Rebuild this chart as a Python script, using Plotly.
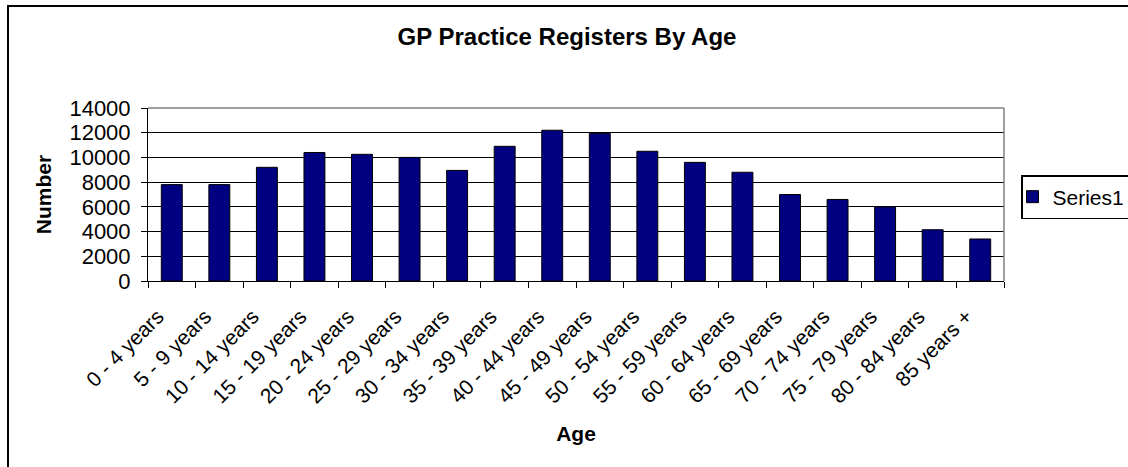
import plotly.graph_objects as go

categories = ["0 - 4 years", "5 - 9 years", "10 - 14 years", "15 - 19 years",
              "20 - 24 years", "25 - 29 years", "30 - 34 years", "35 - 39 years",
              "40 - 44 years", "45 - 49 years", "50 - 54 years", "55 - 59 years",
              "60 - 64 years", "65 - 69 years", "70 - 74 years", "75 - 79 years",
              "80 - 84 years", "85 years +"]
series1 = [7800, 7800, 9200, 10400, 10250, 10000, 8950, 10900, 12200,
           11950, 10500, 9600, 8800, 7000, 6600, 6000, 4150, 3400]
y_ticks = [0, 2000, 4000, 6000, 8000, 10000, 12000, 14000]

W, H = 1128, 467
ML, MR, MT, MB = 148, 124, 108, 186
PW, PH = W - ML - MR, H - MT - MB
FONT = "Arial, 'Liberation Sans', sans-serif"

def px_x(p):
    return (p - ML) / PW

def px_y(p):
    return (H - MB - p) / PH

fig = go.Figure()
fig.add_trace(go.Bar(
    x=categories, y=series1, name="Series1",
    marker=dict(color="#000080", line=dict(color="#000000", width=1)),
))

fig.update_layout(
    width=W, height=H, autosize=False,
    margin=dict(l=ML, r=MR, t=MT, b=MB, autoexpand=False),
    paper_bgcolor="white", plot_bgcolor="white",
    font=dict(family=FONT, size=21, color="black"),
    bargap=0.56,
    title=dict(text="<b>GP Practice Registers By Age</b>", font=dict(size=24),
               x=px_x(567), xanchor="center", xref="paper",
               y=1 - 37 / H, yanchor="middle"),
    showlegend=True,
    legend=dict(x=px_x(1021), xanchor="left", y=px_y(175), yanchor="top",
                bordercolor="black", borderwidth=1.5, bgcolor="white",
                font=dict(size=21), tracegroupgap=0, indentation=-10),
    xaxis=dict(
        title=dict(text="<b>Age</b>", font=dict(size=21), standoff=19),
        tickangle=-45, ticks="outside", ticklen=6, tickcolor="black",
        tickson="boundaries", showline=True, linecolor="black", linewidth=1,
        showgrid=False, tickfont=dict(size=21),
        ticklabelstandoff=14, ticklabelshift=-14,
    ),
    yaxis=dict(
        title=dict(text="<b>Number</b>", font=dict(size=21), standoff=12),
        range=[0, 14000], tickvals=y_ticks, ticktext=[str(v) for v in y_ticks],
        ticks="outside", ticklen=6, tickcolor="black",
        showline=True, linecolor="black", linewidth=1,
        showgrid=True, gridcolor="black", gridwidth=1,
        zeroline=False, tickfont=dict(size=22), ticklabelstandoff=6,
    ),
    shapes=[
        # plot area top and right edges (grey)
        dict(type="line", xref="x domain", yref="y domain", x0=0, x1=1, y0=1, y1=1,
             line=dict(color="#808080", width=1.5), layer="above"),
        dict(type="line", xref="x domain", yref="y domain", x0=1, x1=1, y0=0, y1=1,
             line=dict(color="#808080", width=1.5), layer="above"),
        # chart outer border (left and top visible)
        dict(type="rect", xref="paper", yref="paper",
             x0=px_x(8), x1=px_x(W + 20), y0=px_y(H + 20), y1=px_y(6),
             line=dict(color="black", width=2), layer="above"),
    ],
)

fig.write_html("out.html", config={"displayModeBar": False},
               post_script="document.body.style.margin='0';document.body.style.overflow='hidden';")
